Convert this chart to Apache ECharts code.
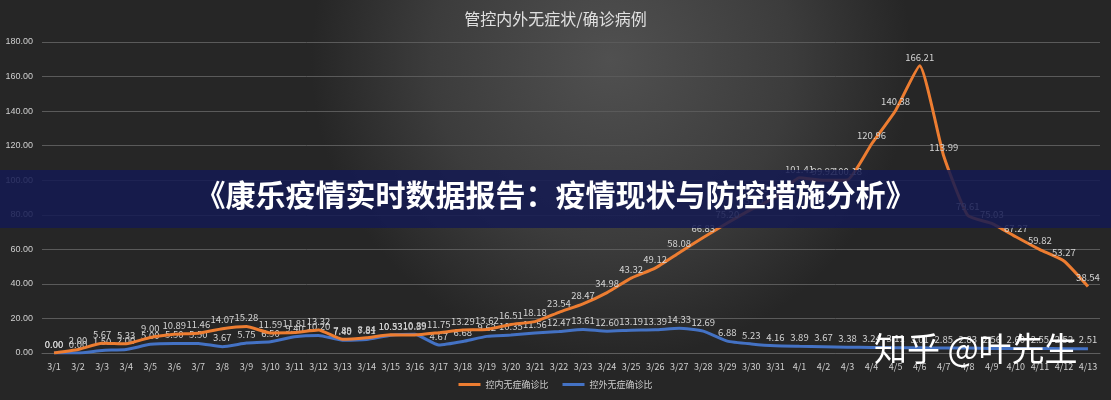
<!DOCTYPE html>
<html><head><meta charset="utf-8">
<script src="https://cdn.jsdelivr.net/npm/echarts@6/dist/echarts.min.js"></script>
<style>html,body{margin:0;padding:0;background:#2a2a2a}#c{width:1111px;height:400px}</style>
</head><body><div id="c"></div>
<script>
const categories = ['3/1','3/2','3/3','3/4','3/5','3/6','3/7','3/8','3/9','3/10','3/11','3/12','3/13','3/14','3/15','3/16','3/17','3/18','3/19','3/20','3/21','3/22','3/23','3/24','3/25','3/26','3/27','3/28','3/29','3/30','3/31','4/1','4/2','4/3','4/4','4/5','4/6','4/7','4/8','4/9','4/10','4/11','4/12','4/13'];
const insideRatio = [0.00,2.00,5.67,5.33,9.00,10.89,11.46,14.07,15.28,11.59,11.81,13.32,7.89,8.84,10.53,10.39,11.75,13.29,13.62,16.51,18.18,23.54,28.47,34.98,43.32,49.12,58.08,66.83,75.20,83.10,90.12,101.41,99.92,100.18,120.96,140.38,166.21,113.99,79.61,75.03,67.27,59.82,53.27,38.54];
const outsideRatio = [0.00,0.00,1.50,2.00,5.00,5.50,5.50,3.67,5.75,6.50,9.40,10.20,7.40,7.81,10.33,10.89,4.67,6.68,9.62,10.35,11.56,12.47,13.61,12.60,13.19,13.39,14.33,12.69,6.88,5.23,4.16,3.89,3.67,3.38,3.24,3.11,3.01,2.85,2.83,2.56,2.60,2.55,2.52,2.51];
const yTicks = {min:0, max:180, interval:20};
const titleText = '管控内外无症状/确诊病例';
const seriesNames = ['控内无症确诊比','控外无症确诊比'];
const bannerText = '《康乐疫情实时数据报告：疫情现状与防控措施分析》';
const watermarkText = '知乎 @叶先生';

const chart = echarts.init(document.getElementById('c'));
const labelStyle = {show:true, position:'top', distance:4, color:'#d4d4d4', fontSize:9.5, fontFamily:'Noto Sans CJK SC', formatter: p => p.value.toFixed(2)};
chart.setOption({
  backgroundColor: {type:'radial', x:0.55, y:0.15, r:0.75, colorStops:[{offset:0,color:'#505050'},{offset:0.6,color:'#3c3c3c'},{offset:1,color:'#262626'}]},
  title: {text:titleText, left:'center', top:6, textStyle:{color:'#e0e0e0', fontSize:16, fontWeight:'normal', fontFamily:'Noto Sans CJK SC'}},
  legend: {bottom:6, left:'center', itemWidth:22, itemHeight:3, itemGap:14, icon:'rect',
    textStyle:{color:'#cfcfcf', fontSize:9, fontFamily:'Noto Sans CJK SC'}, data:seriesNames},
  grid: {left:42, right:11, top:42, bottom:47, containLabel:false},
  xAxis: {type:'category', data:categories, boundaryGap:true,
    axisLine:{show:true, lineStyle:{color:'#5e5e5e'}}, axisTick:{show:false},
    axisLabel:{color:'#cfcfcf', fontSize:9, interval:0, margin:9, fontFamily:'Noto Sans CJK SC'}},
  yAxis: {type:'value', min:yTicks.min, max:yTicks.max, interval:yTicks.interval,
    axisLine:{show:false}, axisTick:{show:false},
    axisLabel:{color:'#cfcfcf', fontSize:9, margin:9, formatter:v=>v.toFixed(2), fontFamily:'Liberation Sans'},
    splitLine:{lineStyle:{color:'#5a5a5a', width:1}}},
  series: [
    {name:seriesNames[0], type:'line', data:insideRatio, smooth:0.15, symbol:'circle', symbolSize:0.1, showSymbol:true,
      lineStyle:{color:'#ed7d31', width:3}, itemStyle:{color:'#ed7d31'}, label:labelStyle, z:3},
    {name:seriesNames[1], type:'line', data:outsideRatio, smooth:0.15, symbol:'circle', symbolSize:0.1, showSymbol:true,
      lineStyle:{color:'#4472c4', width:3}, itemStyle:{color:'#4472c4'}, label:labelStyle, z:2}
  ],
  graphic: [
    {type:'rect', left:0, top:170, z:100, shape:{width:1111, height:58}, style:{fill:'rgba(20,26,82,0.86)'}},
    {type:'text', left:'center', top:180, z:101, style:{text:bannerText, fill:'#ffffff', font:'bold 30px "Noto Sans CJK SC"', shadowColor:'rgba(0,0,0,0.6)', shadowBlur:3}},
    {type:'text', left:874, top:332, z:101, style:{text:watermarkText, fill:'#ffffff', font:'33px "Noto Sans CJK SC"', shadowColor:'rgba(0,0,0,0.7)', shadowBlur:4, shadowOffsetX:1, shadowOffsetY:1}}
  ]
});
</script></body></html>
